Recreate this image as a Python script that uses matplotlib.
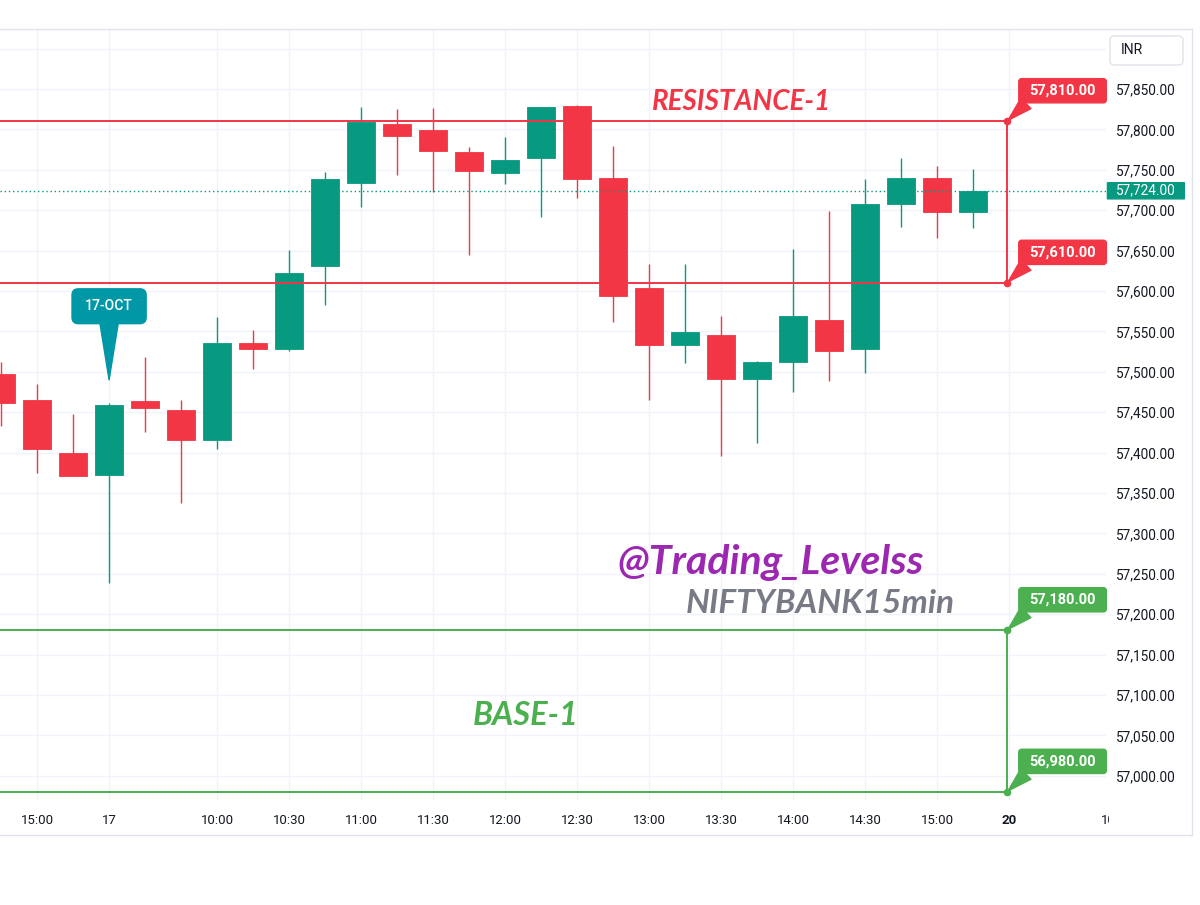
import matplotlib.pyplot as plt
import numpy as np
from matplotlib.lines import Line2D
from matplotlib.patches import BoxStyle, FancyBboxPatch
from matplotlib.transforms import Bbox, TransformedBbox, blended_transform_factory

UP = "#089981"
DOWN = "#F23645"
GREEN = "#4CAF50"
TEXT = "#131722"
GRID = "#F0F3FA"
BORDER = "#E0E3EB"

plt.rcParams["font.family"] = ["Roboto", "DejaVu Sans"]

# NIFTYBANK 15 min candles, 16 Oct 14:45 .. 17 Oct 15:15
opens = [57497, 57465, 57400, 57372, 57464, 57453, 57416, 57536, 57528, 57631,
         57734, 57807, 57799, 57772, 57746, 57765, 57829, 57740, 57604, 57533,
         57546, 57491, 57512, 57564, 57528, 57708, 57740, 57698]
highs = [57512, 57485, 57448, 57461, 57518, 57465, 57568, 57552, 57651, 57747,
         57828, 57825, 57827, 57778, 57790, 57828, 57830, 57780, 57634, 57634,
         57569, 57513, 57652, 57699, 57738, 57764, 57755, 57751]
lows = [57433, 57375, 57371, 57239, 57426, 57337, 57405, 57504, 57526, 57583,
        57704, 57744, 57723, 57645, 57733, 57692, 57715, 57562, 57465, 57511,
        57396, 57412, 57475, 57488, 57499, 57679, 57666, 57678]
closes = [57461, 57405, 57371, 57459, 57455, 57416, 57536, 57528, 57622, 57738,
          57809, 57792, 57773, 57749, 57762, 57828, 57738, 57594, 57533, 57549,
          57491, 57512, 57569, 57526, 57708, 57740, 57698, 57724]

last_price = 57724
resistance = (57810, 57610)
base = (57180, 56980)
oct17_tip = 57490

days = ["16", "17", "20"]
time_ticks = [("16", "15:00", "15:00"), ("17", "09:15", "17"), ("17", "10:00", "10:00"),
              ("17", "10:30", "10:30"), ("17", "11:00", "11:00"), ("17", "11:30", "11:30"),
              ("17", "12:00", "12:00"), ("17", "12:30", "12:30"), ("17", "13:00", "13:00"),
              ("17", "13:30", "13:30"), ("17", "14:00", "14:00"), ("17", "14:30", "14:30"),
              ("17", "15:00", "15:00"), ("20", "09:15", "20")]
cut_tick = ("20", "10:00", "10:00")  # half hidden behind the price scale
price_ticks = np.arange(57000, 57901, 50)

# 15 minute session slots 09:15 .. 15:15
session = [f"{h:02d}:{m:02d}" for h in range(9, 16) for m in (0, 15, 30, 45)]
session = [t for t in session if "09:15" <= t <= "15:15"]
slot = {(d, t): i for i, (d, t) in enumerate((d, t) for d in days for t in session)}
first = slot[("16", "14:45")]
x = np.arange(len(opens)) + first
level_end = slot[("20", "09:15")] - 0.06


def label_box(hpad, vpad, radius=0.0):
    """Box style with separate horizontal / vertical padding (in em)."""
    def box(x0, y0, width, height, mutation_size):
        hp, vp = hpad * mutation_size, vpad * mutation_size
        return BoxStyle.Round(pad=0, rounding_size=radius)(
            x0 - hp, y0 - vp, width + 2 * hp, height + 2 * vp, mutation_size)
    return box


fig = plt.figure(figsize=(12, 9.05), dpi=100)
ax = fig.add_axes([0, 105 / 905, 1106 / 1200, 770 / 905])
for s in ax.spines.values():
    s.set_visible(False)

# grid + axes
ax.set_xticks([slot[(d, t)] for d, t, _ in time_ticks])
ax.set_xticklabels([lbl for _, _, lbl in time_ticks])
ax.set_yticks(price_ticks)
ax.set_yticklabels([f"{p:,.2f}" if p < 57900 else "" for p in price_ticks])
ax.set_xlim(first - 0.03, slot[("17", "09:15")] + 27.69)
ax.set_ylim(56970, 57923)
ax.yaxis.tick_right()
ax.tick_params(axis="y", length=0, pad=7, labelsize=9.8, labelcolor=TEXT)
ax.tick_params(axis="x", length=0, pad=10, labelsize=9.5, labelcolor=TEXT)
ax.grid(True, color=GRID, lw=1, zorder=0)
ax.set_axisbelow(True)
for lbl in ax.get_xticklabels():
    if lbl.get_text() == "20":
        lbl.set_fontweight("bold")

xtrans = blended_transform_factory(ax.transData, ax.transAxes)
cx = slot[cut_tick[:2]]
ax.axvline(cx, color=GRID, lw=1, zorder=0)
cut = ax.text(cx, -0.018, cut_tick[2], transform=xtrans, ha="center", va="top",
              fontsize=9.5, color=TEXT, clip_on=True)
cut.set_clip_box(TransformedBbox(Bbox([[0, 0], [1109 / 1200, 1]]), fig.transFigure))

# candles
o, h, l, c = map(np.array, (opens, highs, lows, closes))
col = np.where(c >= o, UP, DOWN)
ax.vlines(x, l, h, colors=col, lw=1.0, zorder=3)
body = np.where(np.abs(c - o) < 1, 1, c - o)
ax.bar(x, body, bottom=o, width=0.78, color=col, edgecolor=col, lw=0.6, zorder=4)

# last price
ax.axhline(last_price, color=UP, lw=1, ls=(0, (1, 2)), zorder=5)
trans = blended_transform_factory(ax.transAxes, ax.transData)
ax.annotate(f"{last_price:,.2f}", xy=(1, last_price), xycoords=trans,
            xytext=(10, 0), textcoords="offset pixels", ha="left", va="center",
            fontsize=9.8, color="white", annotation_clip=False,
            bbox=dict(boxstyle=label_box(0.63, 0.08), fc=UP, ec=UP))

# levels
for (top, bottom), color in ((resistance, DOWN), (base, GREEN)):
    for lvl in (top, bottom):
        ax.plot([first - 1, level_end], [lvl, lvl], color=color, lw=1.4, zorder=6,
                solid_capstyle="butt")
        ax.plot(level_end, lvl, "o", ms=4.5, color=color, zorder=7)
        ax.annotate(f"{lvl:,.2f}", xy=(level_end, lvl), xytext=(40, 22),
                    textcoords="offset points", ha="center", va="center",
                    fontsize=10.5, fontweight="bold", color="white", zorder=8,
                    bbox=dict(boxstyle=label_box(0.72, 0.35, 0.2), fc=color, ec=color),
                    arrowprops=dict(arrowstyle="wedge,tail_width=1.0,shrink_factor=0.5",
                                    fc=color, ec=color, relpos=(0.15, 0.5),
                                    shrinkA=0, shrinkB=1))
    ax.vlines(level_end, bottom, top, color=color, lw=1.4, zorder=6)

# date callout
ax.annotate("17-OCT", xy=(slot[("17", "09:15")], oct17_tip), xytext=(0, 53),
            textcoords="offset points", ha="center", va="center", fontsize=10,
            fontweight="medium", color="white", zorder=8,
            bbox=dict(boxstyle=label_box(0.95, 0.75, 0.45), fc="#0097A7", ec="#0097A7"),
            arrowprops=dict(arrowstyle="wedge,tail_width=1.3,shrink_factor=0.5",
                            fc="#0097A7", ec="#0097A7", shrinkA=0, shrinkB=0))

# chart texts
wm = dict(family="Lato", fontweight="bold", style="italic", ha="center", va="center",
          transform=ax.transAxes, zorder=9)
ax.text(0.670, 0.906, "RESISTANCE-1", color=DOWN, fontsize=20, **wm)
ax.text(0.697, 0.309, "@Trading_Levelss", color="#9C27B0", fontsize=29.5, **wm)
ax.text(0.742, 0.255, "NIFTYBANK15min", color="#787B86", fontsize=24, **wm)
ax.text(0.475, 0.110, "BASE-1", color=GREEN, fontsize=23.5, **wm)

# widget chrome
fig.add_artist(FancyBboxPatch((1110 / 1200, 840 / 905), 73 / 1200, 29 / 905,
                              boxstyle="round,pad=0,rounding_size=0.004",
                              transform=fig.transFigure, fc="white", ec=BORDER,
                              lw=1, zorder=5))
fig.text(1121 / 1200, 855 / 905, "INR", fontsize=10, color=TEXT, va="center", zorder=6)
for xs, ys in (((0, 1192), (876, 876)), ((1192, 1192), (876, 70)), ((0, 1192), (70, 70))):
    fig.add_artist(Line2D([v / 1200 for v in xs], [v / 905 for v in ys],
                          transform=fig.transFigure, color=BORDER, lw=1))

fig.savefig("out.png", dpi=100, facecolor="white")
